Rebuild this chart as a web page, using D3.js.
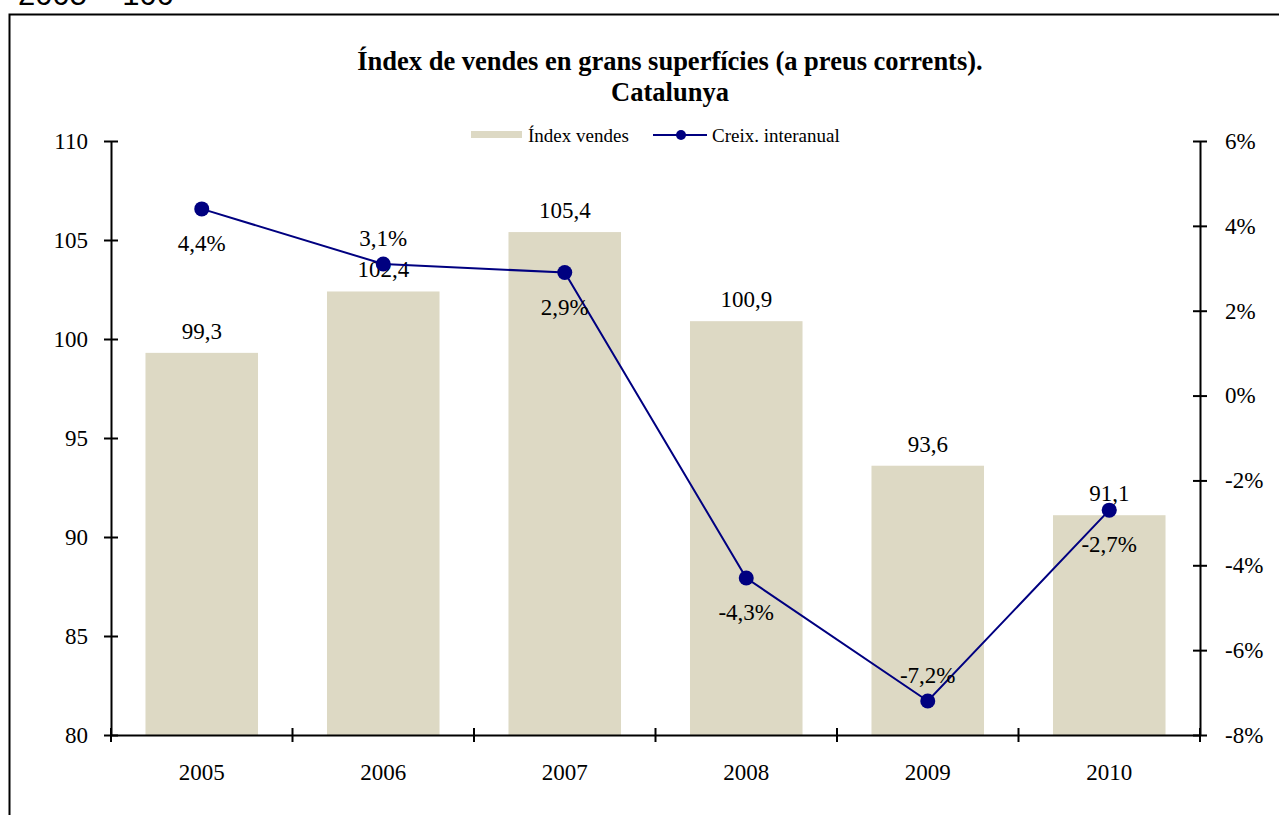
<!DOCTYPE html>
<html>
<head>
<meta charset="utf-8">
<script src="https://cdn.jsdelivr.net/npm/d3@7"></script>
<style>
  body { margin: 0; background: #fff; }
  svg { display: block; }
</style>
</head>
<body>
<div id="chart"></div>
<script>
let width = 1279,
    height = 815;

let margin = {
    top: 141,
    right: 79,
    bottom: 80,
    left: 111
};

// data
let years = ["2005", "2006", "2007", "2008", "2009", "2010"];
let indexValues = [99.3, 102.4, 105.4, 100.9, 93.6, 91.1];
let growthValues = [4.4, 3.1, 2.9, -4.3, -7.2, -2.7];
// where the % label sits: -1 above the point, 1 below
let growthLabelSide = [1, -1, 1, 1, -1, 1];
let leftTicks = [80, 85, 90, 95, 100, 105, 110];
let rightTicks = [-8, -6, -4, -2, 0, 2, 4, 6];

let barColor = '#ddd9c4';
let lineColor = '#000080';
let serif = '"Liberation Serif", "Times New Roman", serif';
let labelSize = "23px";

// comma decimals, plain hyphen for minus
let fmt = v => (v < 0 ? "-" : "") + d3.format(".1f")(Math.abs(v)).replace(".", ",");

let svg = d3.select("#chart")
    .append("svg")
    .attr("width", width)
    .attr("height", height);

// subtitle, cut off at the top like the original
svg.append("text")
    .attr("x", 18)
    .attr("y", 5)
    .style("font-family", '"Liberation Sans", Arial, sans-serif')
    .style("font-size", "31px")
    .text("2005 = 100");

// outer frame
svg.append("rect")
    .attr("x", 9.5)
    .attr("y", 14.5)
    .attr("width", 1300)
    .attr("height", 900)
    .attr("fill", "none")
    .attr("stroke", "#000")
    .attr("stroke-width", 2);

let innerW = width - margin.left - margin.right,
    innerH = 735 - margin.top;

let g = svg.append("g")
    .attr("transform", "translate(" + margin.left + "," + margin.top + ")");

let x = d3.scaleBand()
    .domain(years)
    .range([0, innerW])
    .paddingInner(0.38)
    .paddingOuter(0.19);

let y = d3.scaleLinear().domain([80, 110]).range([innerH, 0]);
let y2 = d3.scaleLinear().domain([-8, 6]).range([innerH, 0]);

// bars
g.selectAll(".bar")
    .data(indexValues)
    .enter()
    .append("rect")
    .attr("x", (d, i) => x(years[i]))
    .attr("y", d => y(d))
    .attr("width", x.bandwidth())
    .attr("height", d => innerH - y(d))
    .attr("fill", barColor);

g.selectAll(".bar-label")
    .data(indexValues)
    .enter()
    .append("text")
    .attr("x", (d, i) => x(years[i]) + x.bandwidth() / 2)
    .attr("y", d => y(d) - 14)
    .attr("text-anchor", "middle")
    .style("font-family", serif)
    .style("font-size", labelSize)
    .text(d => fmt(d));

// axes
let xAxis = d3.axisBottom(x).tickSize(0).tickPadding(29);
let xg = g.append("g")
    .attr("transform", "translate(0," + innerH + ")")
    .call(xAxis);
xg.select(".domain").attr("stroke", "#000").attr("stroke-width", 2);
xg.selectAll("text").style("font-family", serif).style("font-size", labelSize).attr("fill", "#000");

// category separator ticks on x axis
let seps = years.map(d => x(d) - x.step() * x.paddingInner() / 2).concat([innerW]);
seps[0] = 0;
g.selectAll(".sep")
    .data(seps)
    .enter()
    .append("line")
    .attr("x1", d => d)
    .attr("x2", d => d)
    .attr("y1", innerH - 7)
    .attr("y2", innerH + 7)
    .attr("stroke", "#000")
    .attr("stroke-width", 2);

let yAxis = d3.axisLeft(y).tickValues(leftTicks).tickSizeInner(7).tickSizeOuter(0).tickPadding(16);
let yg = g.append("g").call(yAxis);
yg.selectAll(".tick line").attr("x2", 7).attr("x1", -7);
yg.select(".domain").attr("stroke", "#000").attr("stroke-width", 2);
yg.selectAll(".tick line").attr("stroke", "#000").attr("stroke-width", 2);
yg.selectAll("text").style("font-family", serif).style("font-size", labelSize).attr("fill", "#000");

let y2Axis = d3.axisRight(y2).tickValues(rightTicks).tickSizeInner(7).tickSizeOuter(0).tickPadding(18)
    .tickFormat(d => (d < 0 ? "-" + Math.abs(d) : d) + "%");
let y2g = g.append("g")
    .attr("transform", "translate(" + innerW + ",0)")
    .call(y2Axis);
y2g.selectAll(".tick line").attr("x1", -7).attr("x2", 7);
y2g.select(".domain").attr("stroke", "#000").attr("stroke-width", 2);
y2g.selectAll(".tick line").attr("stroke", "#000").attr("stroke-width", 2);
y2g.selectAll("text").style("font-family", serif).style("font-size", labelSize).attr("fill", "#000");

// growth line
let cx = i => x(years[i]) + x.bandwidth() / 2;
let line = d3.line()
    .x((d, i) => cx(i))
    .y(d => y2(d));

g.append("path")
    .datum(growthValues)
    .attr("d", line)
    .attr("fill", "none")
    .attr("stroke", lineColor)
    .attr("stroke-width", 2);

g.selectAll(".dot")
    .data(growthValues)
    .enter()
    .append("circle")
    .attr("cx", (d, i) => cx(i))
    .attr("cy", d => y2(d))
    .attr("r", 7.5)
    .attr("fill", lineColor);

g.selectAll(".dot-label")
    .data(growthValues)
    .enter()
    .append("text")
    .attr("x", (d, i) => cx(i))
    .attr("y", (d, i) => y2(d) + (growthLabelSide[i] > 0 ? 42 : -18))
    .attr("text-anchor", "middle")
    .style("font-family", serif)
    .style("font-size", labelSize)
    .text(d => fmt(d) + "%");

// title
let title = svg.append("text")
    .attr("text-anchor", "middle")
    .style("font-family", serif)
    .style("font-size", "26.5px")
    .style("font-weight", "bold");
title.append("tspan").attr("x", 670).attr("y", 70).text("Índex de vendes en grans superfícies (a preus corrents).");
title.append("tspan").attr("x", 670).attr("y", 101).text("Catalunya");

// legend
let legend = svg.append("g").style("font-family", serif).style("font-size", "19px");
legend.append("rect")
    .attr("x", 471).attr("y", 131).attr("width", 51).attr("height", 7)
    .attr("fill", barColor);
legend.append("text").attr("x", 528).attr("y", 142).text("Índex vendes");
legend.append("line")
    .attr("x1", 653).attr("x2", 707).attr("y1", 135).attr("y2", 135)
    .attr("stroke", lineColor).attr("stroke-width", 2);
legend.append("circle").attr("cx", 681).attr("cy", 135).attr("r", 5).attr("fill", lineColor);
legend.append("text").attr("x", 712).attr("y", 142).text("Creix. interanual");
</script>
</body>
</html>
